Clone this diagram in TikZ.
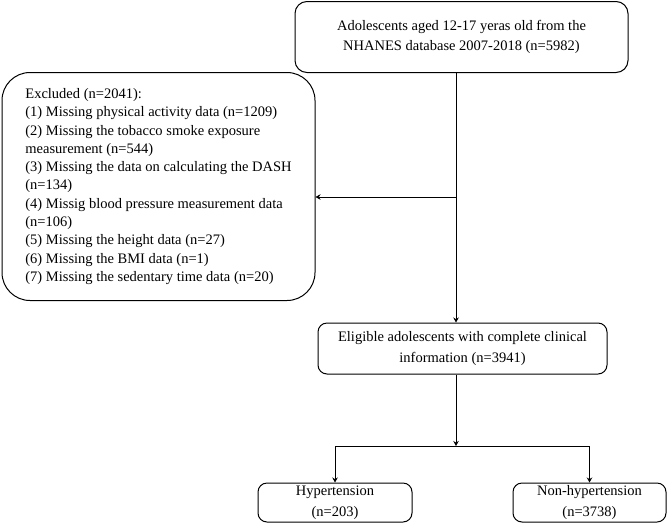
\documentclass[tikz,border=0pt]{standalone}
\usepackage{fontspec}
\setmainfont{Liberation Serif}
\usetikzlibrary{arrows.meta,positioning}
\tikzset{font={\fontsize{14.5pt}{20.5pt}\selectfont}}

\begin{document}
\begin{tikzpicture}[x=1pt,y=-1pt,
box/.style={draw,line width=1pt,rounded corners=#1,align=center,inner sep=0pt},
box/.default=9pt,
arr/.style={-{Stealth[length=5pt,width=5.5pt]},line width=1pt}
]
\useasboundingbox (0,0) rectangle (669,523);

\node[box=12pt,minimum width=333pt,minimum height=71pt] (src) at (461.5,37)
  {Adolescents aged 12-17 yeras old from the\\NHANES database 2007-2018 (n=5982)};

\node[box=28pt,minimum width=313pt,minimum height=228pt,align=left,
  font={\fontsize{14.5pt}{18.3pt}\selectfont}] (excl) at (158.5,186.5)
  {Excluded (n=2041):\\
   (1) Missing physical activity data (n=1209)\\
   (2) Missing the tobacco smoke exposure\\
   measurement (n=544)\\
   (3) Missing the data on calculating the DASH\\
   (n=134)\\
   (4) Missig blood pressure measurement data\\
   (n=106)\\
   (5) Missing the height data (n=27)\\
   (6) Missing the BMI data (n=1)\\
   (7) Missing the sedentary time data (n=20)};

\node[box,minimum width=289pt,minimum height=51pt] (elig) at (462.5,348.5)
  {Eligible adolescents with complete clinical\\information (n=3941)};

\node[box,minimum width=154pt,minimum height=39pt] (hyp) at (335,502.5)
  {Hypertension\\(n=203)};
\node[box,minimum width=153pt,minimum height=39pt] (nonhyp) at (589.5,502.5)
  {Non-hypertension\\(n=3738)};

%flow
\coordinate (j1) at (456,197);
\coordinate (j2) at (456,446);
\draw[arr] (src.south -| j1) -- (elig.north -| j1);
\draw[arr] (j1) -- (excl.east |- j1);
\draw[arr] (elig.south -| j2) -- (j2);
\draw[line width=1pt] (hyp.north |- j2) -- (nonhyp.north |- j2);
\draw[arr] (hyp.north |- j2) -- (hyp.north);
\draw[arr] (nonhyp.north |- j2) -- (nonhyp.north);

\end{tikzpicture}
\end{document}
